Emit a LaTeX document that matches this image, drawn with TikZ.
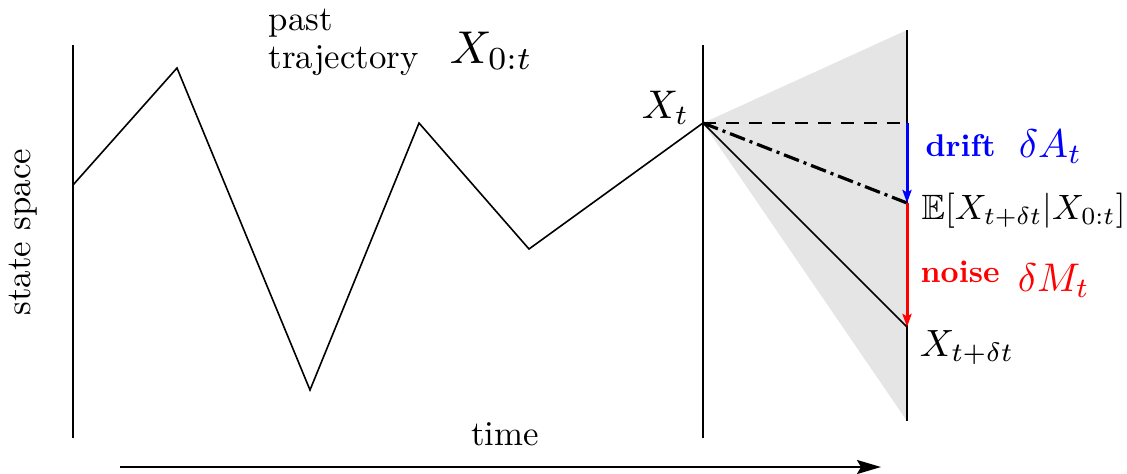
\documentclass[tikz,border=0pt]{standalone}
\usepackage{amssymb}
\usepackage{fontspec}
\setmainfont{Latin Modern Roman}
\usetikzlibrary{arrows.meta}
\begin{document}
\begin{tikzpicture}[x=0.5pt,y=-0.5pt,
  axis/.style={line width=0.75pt},
  traj/.style={line width=0.8pt, line join=miter},
  txt/.style={font=\fontsize{10}{11}\selectfont, inner sep=0pt, scale=1.74},
  mth/.style={font=\fontsize{10}{12}\selectfont, inner sep=0pt, scale=2.0},
  bld/.style={font=\fontsize{10}{12}\selectfont\bfseries, inner sep=0pt, scale=1.57},
  tip/.style={-{Stealth[length=6.5pt,width=4.5pt,inset=1.2pt]}}]
\useasboundingbox (0,0) rectangle (1127,473);
% points
\coordinate (a0) at (73,185);
\coordinate (a1) at (177,68);
\coordinate (a2) at (310,390);
\coordinate (a3) at (419,123);
\coordinate (a4) at (529,249);
\coordinate (Xt) at (703,123);
\coordinate (L1t) at (73,45);
\coordinate (L1b) at (73,438);
\coordinate (L2t) at (703,45);
\coordinate (L2b) at (703,438);
\coordinate (L3t) at (907,30);
\coordinate (L3b) at (907,421);
\coordinate (D) at (907,123);
\coordinate (E) at (907,203);
\coordinate (N) at (907,327);
\coordinate (T0) at (120,467);
\coordinate (T1) at (881,467);
% cone
\fill[gray!20] (Xt) -- (L3t) -- (L3b) -- cycle;
% verticals
\draw[axis] (L1t) -- (L1b);
\draw[axis] (L2t) -- (L2b);
\draw[axis] (L3t) -- (L3b);
% trajectory
\draw[traj] (a0) -- (a1) -- (a2) -- (a3) -- (a4) -- (Xt);
\draw[line width=0.75pt, dash pattern=on 6.5pt off 5pt] (Xt) -- (D);
\draw[line width=1.6pt, dash pattern=on 8pt off 2.5pt on 1.5pt off 2.5pt] (Xt) -- (E);
\draw[traj] (Xt) -- (N);
% drift and noise arrows
\draw[blue, line width=1.5pt, tip] (D) -- (E);
\draw[red, line width=1.5pt, tip] (E) -- (N);
% time arrow
\draw[line width=1.1pt, -{Stealth[length=12pt,width=7pt,inset=2pt]}] (T0) -- (T1);
% labels
\node[txt, anchor=north west, align=left] (past) at (268,8) {past\\trajectory};
\node[mth, anchor=base west, scale=1.15] (X0t) at (449,63) {$X_{0:t}$};
\node[mth, anchor=base east] (lXt) at (690,118) {$X_t$};
\node[bld, anchor=base west, text=blue] (drift) at (925,156) {drift};
\node[mth, anchor=base west, text=blue] (dA) at (1018,157) {$\delta A_t$};
\node[mth, anchor=base west, scale=0.88] (EX) at (921,219) {$\mathbb{E}[X_{t+\delta t}|X_{0:t}]$};
\node[bld, anchor=base west, text=red] (noise) at (920,282) {noise};
\node[mth, anchor=base west, text=red] (dM) at (1017,291) {$\delta M_t$};
\node[mth, anchor=base west, scale=0.95] (Xtdt) at (919,356) {$X_{t+\delta t}$};
\node[txt, anchor=base] (time) at (505,445) {time};
\node[txt, rotate=90] (state) at (23,232) {state space};
\end{tikzpicture}
\end{document}
